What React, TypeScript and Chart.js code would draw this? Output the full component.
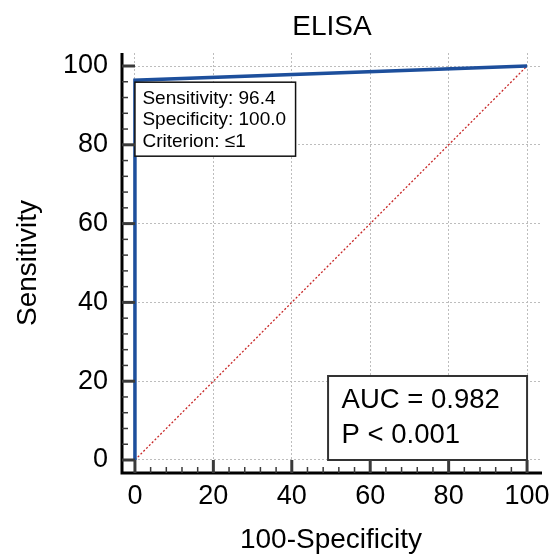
import React, { useEffect, useRef } from "react";
import { Chart, registerables } from "chart.js";

Chart.register(...registerables);

const chartTitle = "ELISA";
const xAxisTitle = "100-Specificity";
const yAxisTitle = "Sensitivity";
const rocX = [0, 0, 100];
const rocY = [0, 96.4, 100];
const diagX = [0, 100];
const diagY = [0, 100];
const xTicks = [0, 20, 40, 60, 80, 100];
const yTicks = [0, 20, 40, 60, 80, 100];
const minorStep = 4;
const criterionPoint = { x: 0, y: 96.4 };
const criterionLines = ["Sensitivity: 96.4", "Specificity: 100.0", "Criterion: \u22641"];
const aucLines = ["AUC = 0.982", "P < 0.001"];

const FONT = "'Liberation Sans', Arial, Helvetica, sans-serif";

const decorPlugin = {
  id: "decor",
  afterDraw(chart: any) {
    const { ctx, chartArea } = chart;
    const xs = chart.scales.x;
    const ys = chart.scales.y;
    ctx.save();

    // Criterion box
    ctx.font = `19px ${FONT}`;
    const bx = xs.getPixelForValue(criterionPoint.x);
    const by = ys.getPixelForValue(criterionPoint.y) + 2;
    const tw = Math.max(...criterionLines.map((t) => ctx.measureText(t).width));
    const bw = tw + 17;
    const bh = 74;
    ctx.fillStyle = "#ffffff";
    ctx.fillRect(bx, by, bw, bh);
    ctx.strokeStyle = "#111111";
    ctx.lineWidth = 1.5;
    ctx.strokeRect(bx, by, bw, bh);
    ctx.fillStyle = "#000000";
    ctx.textAlign = "left";
    ctx.textBaseline = "alphabetic";
    criterionLines.forEach((t, i) => ctx.fillText(t, bx + 7.5, by + 21.5 + i * 21.5));

    // AUC box
    const ax2 = xs.getPixelForValue(100);
    const ay2 = ys.getPixelForValue(0);
    const aw = 199;
    const ah = 84;
    ctx.fillStyle = "#ffffff";
    ctx.fillRect(ax2 - aw, ay2 - ah, aw, ah);
    ctx.strokeStyle = "#333333";
    ctx.lineWidth = 2;
    ctx.strokeRect(ax2 - aw, ay2 - ah, aw, ah);
    ctx.fillStyle = "#000000";
    ctx.font = `27.5px ${FONT}`;
    aucLines.forEach((t, i) => ctx.fillText(t, ax2 - aw + 13.5, ay2 - ah + 32 + i * 35));

    // Axis lines
    ctx.strokeStyle = "#000000";
    ctx.lineWidth = 3;
    ctx.beginPath();
    ctx.moveTo(chartArea.left, chartArea.top);
    ctx.lineTo(chartArea.left, chartArea.bottom);
    ctx.lineTo(chartArea.right + 2, chartArea.bottom);
    ctx.stroke();

    // Ticks (inward)
    const majorLen = 13;
    const minorLen = 6;
    ctx.strokeStyle = "#3a3a3a";
    for (let v = 0; v <= 100; v += minorStep) {
      const isMajor = xTicks.includes(v);
      const len = isMajor ? majorLen : minorLen;
      ctx.lineWidth = isMajor ? 3 : 1.5;
      const px = xs.getPixelForValue(v);
      ctx.beginPath();
      ctx.moveTo(px, chartArea.bottom);
      ctx.lineTo(px, chartArea.bottom - len);
      ctx.stroke();
    }
    for (let v = 0; v <= 100; v += minorStep) {
      const isMajor = yTicks.includes(v);
      const len = isMajor ? majorLen : minorLen;
      ctx.lineWidth = isMajor ? 3 : 1.5;
      const py = ys.getPixelForValue(v);
      ctx.beginPath();
      ctx.moveTo(chartArea.left, py);
      ctx.lineTo(chartArea.left + len, py);
      ctx.stroke();
    }

    // Titles
    const cx = (xs.getPixelForValue(0) + xs.getPixelForValue(100)) / 2;
    const cy = (ys.getPixelForValue(0) + ys.getPixelForValue(100)) / 2;
    ctx.fillStyle = "#000000";
    ctx.textAlign = "center";
    ctx.textBaseline = "alphabetic";
    ctx.font = `28px ${FONT}`;
    ctx.fillText(chartTitle, cx + 1, 35);
    ctx.fillText(xAxisTitle, cx, 548);
    ctx.save();
    ctx.translate(36, cy);
    ctx.rotate(-Math.PI / 2);
    ctx.fillText(yAxisTitle, 0, 0);
    ctx.restore();

    ctx.restore();
  },
};

export default function App() {
  const ref = useRef<HTMLCanvasElement | null>(null);
  useEffect(() => {
    document.body.style.margin = "0";
    const canvas = ref.current;
    if (!canvas) return;
    const chart = new Chart(canvas, {
      type: "line",
      data: {
        datasets: [
          {
            label: "ROC",
            data: rocX.map((x, i) => ({ x, y: rocY[i] })),
            borderColor: "#1d4f9c",
            borderWidth: 3.5,
            pointRadius: 0,
            fill: false,
            tension: 0,
          },
          {
            label: "Reference",
            data: diagX.map((x, i) => ({ x, y: diagY[i] })),
            borderColor: "#c82828",
            borderWidth: 1.3,
            borderDash: [2, 2],
            pointRadius: 0,
            fill: false,
            tension: 0,
          },
        ],
      },
      options: {
        animation: false,
        responsive: false,
        devicePixelRatio: 1,
        layout: { padding: { left: 0, right: 15, top: 53, bottom: 0 } },
        plugins: {
          legend: { display: false },
          tooltip: { enabled: false },
          title: { display: false },
        },
        scales: {
          x: {
            type: "linear",
            min: -3.3,
            max: 103.3,
            afterBuildTicks: (s: any) => {
              s.ticks = xTicks.map((v) => ({ value: v }));
            },
            afterFit: (s: any) => {
              s.height = 84;
              s.paddingLeft = 0;
              s.paddingRight = 0;
            },
            grid: { color: "#bdbdbd", lineWidth: 1, drawTicks: false },
            border: { display: false, dash: [2, 2] },
            ticks: {
              color: "#000000",
              padding: 7,
              maxRotation: 0,
              font: { family: FONT, size: 27 },
            },
          },
          y: {
            type: "linear",
            min: -3.3,
            max: 103.3,
            afterBuildTicks: (s: any) => {
              s.ticks = yTicks.map((v) => ({ value: v }));
            },
            afterFit: (s: any) => {
              s.width = 122;
              s.paddingTop = 0;
              s.paddingBottom = 0;
            },
            grid: { color: "#bdbdbd", lineWidth: 1, drawTicks: false },
            border: { display: false, dash: [2, 2] },
            ticks: {
              color: "#000000",
              padding: 14,
              font: { family: FONT, size: 27 },
            },
          },
        },
      },
      plugins: [decorPlugin],
    });
    return () => chart.destroy();
  }, []);
  return (
    <div style={{ position: "fixed", left: 0, top: 0, width: 555, height: 557 }}>
      <canvas ref={ref} width={555} height={557} />
    </div>
  );
}
